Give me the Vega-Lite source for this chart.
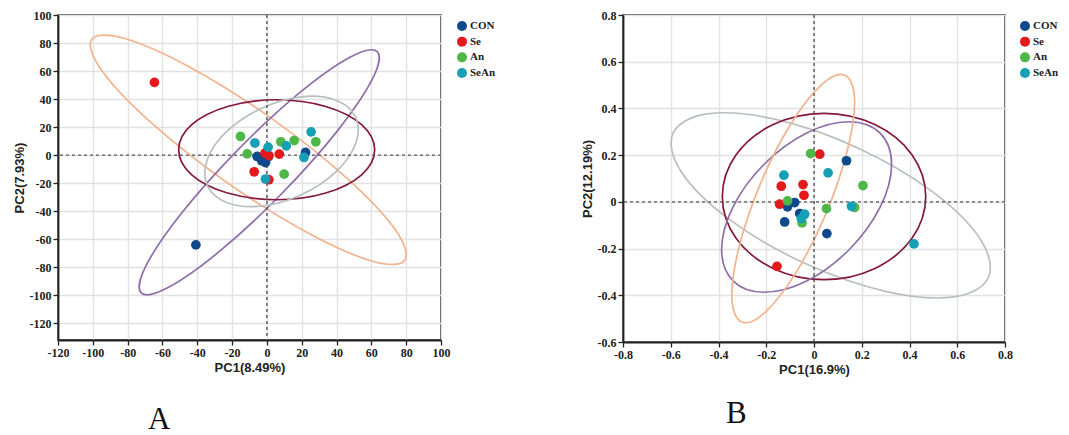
{
  "$schema": "https://vega.github.io/schema/vega-lite/v6.json",
  "padding": {"left": 12, "top": 8, "right": 5, "bottom": 0},
  "background": "white",
  "config": {
    "view": {"stroke": "#222", "strokeWidth": 1.5},
    "axis": {
      "domainColor": "#222", "domainWidth": 1.8,
      "tickColor": "#222", "tickSize": 5, "tickWidth": 1.3,
      "labelColor": "#222", "labelPadding": 2,
      "titleFont": "Liberation Sans", "titleFontSize": 13, "titleFontWeight": "bold", "titleColor": "#222", "titlePadding": 3,
      "gridColor": "#e2e2e2", "gridWidth": 1.4
    }
  },
  "datasets": {
    "groups": [{"g": "CON"}, {"g": "Se"}, {"g": "An"}, {"g": "SeAn"}],
    "ptsA": [
      {"g": "CON", "x": -5.6, "y": -1.0}, {"g": "CON", "x": -0.8, "y": -5.3}, {"g": "CON", "x": 22.2, "y": 1.9},
      {"g": "CON", "x": -40.8, "y": -64.1}, {"g": "CON", "x": 1.0, "y": -1.0}, {"g": "CON", "x": -3.0, "y": -4.0},
      {"g": "Se", "x": -64.6, "y": 51.9}, {"g": "Se", "x": -7.3, "y": -11.9}, {"g": "Se", "x": -1.1, "y": 1.4},
      {"g": "Se", "x": 1.1, "y": -0.3}, {"g": "Se", "x": 7.1, "y": 0.7}, {"g": "Se", "x": 1.1, "y": -17.6},
      {"g": "An", "x": -15.2, "y": 13.3}, {"g": "An", "x": -11.3, "y": 0.9}, {"g": "An", "x": 8.0, "y": 9.5},
      {"g": "An", "x": 15.7, "y": 10.4}, {"g": "An", "x": 28.1, "y": 9.5}, {"g": "An", "x": 9.9, "y": -13.6},
      {"g": "SeAn", "x": -6.9, "y": 8.6}, {"g": "SeAn", "x": 0.7, "y": 5.7}, {"g": "SeAn", "x": -0.8, "y": -17.1},
      {"g": "SeAn", "x": 11.1, "y": 6.6}, {"g": "SeAn", "x": 25.4, "y": 16.6}, {"g": "SeAn", "x": 21.3, "y": -1.7}
    ],
    "ellA": [
      {"grp": "Se", "k": 0, "x": 79.2, "y": -75.0}, {"grp": "Se", "k": 1, "x": 60.7, "y": -75.8}, {"grp": "Se", "k": 2, "x": 23.1, "y": -55.3},
      {"grp": "Se", "k": 3, "x": -23.6, "y": -19.0}, {"grp": "Se", "k": 4, "x": -66.8, "y": 23.5}, {"grp": "Se", "k": 5, "x": -95.0, "y": 60.6},
      {"grp": "Se", "k": 6, "x": -100.6, "y": 82.6}, {"grp": "Se", "k": 7, "x": -82.1, "y": 83.4}, {"grp": "Se", "k": 8, "x": -44.5, "y": 62.9},
      {"grp": "Se", "k": 9, "x": 2.2, "y": 26.6}, {"grp": "Se", "k": 10, "x": 45.4, "y": -15.9}, {"grp": "Se", "k": 11, "x": 73.6, "y": -53.0},
      {"grp": "CON", "k": 0, "x": 63.4, "y": 73.8}, {"grp": "CON", "k": 1, "x": 60.7, "y": 54.5}, {"grp": "CON", "k": 2, "x": 40.5, "y": 17.3},
      {"grp": "CON", "k": 3, "x": 8.3, "y": -27.8}, {"grp": "CON", "k": 4, "x": -27.3, "y": -68.8}, {"grp": "CON", "k": 5, "x": -56.8, "y": -94.6},
      {"grp": "CON", "k": 6, "x": -72.2, "y": -98.4}, {"grp": "CON", "k": 7, "x": -69.5, "y": -79.1}, {"grp": "CON", "k": 8, "x": -49.3, "y": -41.9},
      {"grp": "CON", "k": 9, "x": -17.1, "y": 3.2}, {"grp": "CON", "k": 10, "x": 18.5, "y": 44.2}, {"grp": "CON", "k": 11, "x": 48.0, "y": 70.0},
      {"grp": "An", "k": 0, "x": 61.9, "y": 3.8}, {"grp": "An", "k": 1, "x": 54.4, "y": 21.7}, {"grp": "An", "k": 2, "x": 33.8, "y": 34.7},
      {"grp": "An", "k": 3, "x": 5.6, "y": 39.5}, {"grp": "An", "k": 4, "x": -22.6, "y": 34.7}, {"grp": "An", "k": 5, "x": -43.2, "y": 21.7},
      {"grp": "An", "k": 6, "x": -50.7, "y": 3.8}, {"grp": "An", "k": 7, "x": -43.2, "y": -14.1}, {"grp": "An", "k": 8, "x": -22.6, "y": -27.1},
      {"grp": "An", "k": 9, "x": 5.6, "y": -31.9}, {"grp": "An", "k": 10, "x": 33.8, "y": -27.1}, {"grp": "An", "k": 11, "x": 54.4, "y": -14.1},
      {"grp": "SeAn", "k": 0, "x": 51.0, "y": 27.0}, {"grp": "SeAn", "k": 1, "x": 51.0, "y": 8.3}, {"grp": "SeAn", "k": 2, "x": 39.6, "y": -12.0},
      {"grp": "SeAn", "k": 3, "x": 19.8, "y": -28.3}, {"grp": "SeAn", "k": 4, "x": -3.0, "y": -36.4}, {"grp": "SeAn", "k": 5, "x": -22.8, "y": -34.0},
      {"grp": "SeAn", "k": 6, "x": -34.2, "y": -21.8}, {"grp": "SeAn", "k": 7, "x": -34.2, "y": -3.1}, {"grp": "SeAn", "k": 8, "x": -22.8, "y": 17.2},
      {"grp": "SeAn", "k": 9, "x": -3.0, "y": 33.5}, {"grp": "SeAn", "k": 10, "x": 19.8, "y": 41.6}, {"grp": "SeAn", "k": 11, "x": 39.6, "y": 39.2}
    ],
    "ptsB": [
      {"g": "CON", "x": 0.136, "y": 0.176}, {"g": "CON", "x": -0.081, "y": -0.003}, {"g": "CON", "x": -0.111, "y": -0.021},
      {"g": "CON", "x": -0.060, "y": -0.050}, {"g": "CON", "x": -0.123, "y": -0.086}, {"g": "CON", "x": 0.054, "y": -0.136},
      {"g": "Se", "x": 0.024, "y": 0.204}, {"g": "Se", "x": -0.137, "y": 0.067}, {"g": "Se", "x": -0.046, "y": 0.074},
      {"g": "Se", "x": -0.042, "y": 0.028}, {"g": "Se", "x": -0.144, "y": -0.010}, {"g": "Se", "x": -0.155, "y": -0.276},
      {"g": "An", "x": -0.014, "y": 0.207}, {"g": "An", "x": 0.205, "y": 0.070}, {"g": "An", "x": -0.111, "y": 0.004},
      {"g": "An", "x": 0.052, "y": -0.029}, {"g": "An", "x": 0.170, "y": -0.024}, {"g": "An", "x": -0.050, "y": -0.090},
      {"g": "SeAn", "x": -0.126, "y": 0.114}, {"g": "SeAn", "x": 0.059, "y": 0.124}, {"g": "SeAn", "x": 0.157, "y": -0.019},
      {"g": "SeAn", "x": -0.039, "y": -0.053}, {"g": "SeAn", "x": -0.053, "y": -0.072}, {"g": "SeAn", "x": 0.419, "y": -0.180}
    ],
    "ellB": [
      {"grp": "SeAn", "k": 0, "x": 0.730, "y": -0.325}, {"grp": "SeAn", "k": 1, "x": 0.586, "y": -0.407}, {"grp": "SeAn", "k": 2, "x": 0.304, "y": -0.384},
      {"grp": "SeAn", "k": 3, "x": -0.041, "y": -0.262}, {"grp": "SeAn", "k": 4, "x": -0.356, "y": -0.074}, {"grp": "SeAn", "k": 5, "x": -0.557, "y": 0.130},
      {"grp": "SeAn", "k": 6, "x": -0.590, "y": 0.295}, {"grp": "SeAn", "k": 7, "x": -0.446, "y": 0.377}, {"grp": "SeAn", "k": 8, "x": -0.164, "y": 0.354},
      {"grp": "SeAn", "k": 9, "x": 0.181, "y": 0.232}, {"grp": "SeAn", "k": 10, "x": 0.496, "y": 0.044}, {"grp": "SeAn", "k": 11, "x": 0.697, "y": -0.160},
      {"grp": "An", "k": 0, "x": 0.468, "y": 0.023}, {"grp": "An", "k": 1, "x": 0.411, "y": 0.201}, {"grp": "An", "k": 2, "x": 0.255, "y": 0.331},
      {"grp": "An", "k": 3, "x": 0.042, "y": 0.379}, {"grp": "An", "k": 4, "x": -0.171, "y": 0.331}, {"grp": "An", "k": 5, "x": -0.327, "y": 0.201},
      {"grp": "An", "k": 6, "x": -0.384, "y": 0.023}, {"grp": "An", "k": 7, "x": -0.327, "y": -0.155}, {"grp": "An", "k": 8, "x": -0.171, "y": -0.285},
      {"grp": "An", "k": 9, "x": 0.042, "y": -0.333}, {"grp": "An", "k": 10, "x": 0.255, "y": -0.285}, {"grp": "An", "k": 11, "x": 0.411, "y": -0.155},
      {"grp": "CON", "k": 0, "x": 0.277, "y": 0.294}, {"grp": "CON", "k": 1, "x": 0.325, "y": 0.160}, {"grp": "CON", "k": 2, "x": 0.277, "y": -0.023},
      {"grp": "CON", "k": 3, "x": 0.147, "y": -0.205}, {"grp": "CON", "k": 4, "x": -0.031, "y": -0.339}, {"grp": "CON", "k": 5, "x": -0.209, "y": -0.387},
      {"grp": "CON", "k": 6, "x": -0.339, "y": -0.338}, {"grp": "CON", "k": 7, "x": -0.387, "y": -0.204}, {"grp": "CON", "k": 8, "x": -0.339, "y": -0.021},
      {"grp": "CON", "k": 9, "x": -0.209, "y": 0.161}, {"grp": "CON", "k": 10, "x": -0.031, "y": 0.295}, {"grp": "CON", "k": 11, "x": 0.147, "y": 0.343},
      {"grp": "Se", "k": 0, "x": 0.129, "y": 0.542}, {"grp": "Se", "k": 1, "x": 0.170, "y": 0.441}, {"grp": "Se", "k": 2, "x": 0.141, "y": 0.226},
      {"grp": "Se", "k": 3, "x": 0.052, "y": -0.046}, {"grp": "Se", "k": 4, "x": -0.075, "y": -0.302}, {"grp": "Se", "k": 5, "x": -0.205, "y": -0.473},
      {"grp": "Se", "k": 6, "x": -0.303, "y": -0.514}, {"grp": "Se", "k": 7, "x": -0.344, "y": -0.413}, {"grp": "Se", "k": 8, "x": -0.315, "y": -0.198},
      {"grp": "Se", "k": 9, "x": -0.226, "y": 0.074}, {"grp": "Se", "k": 10, "x": -0.099, "y": 0.330}, {"grp": "Se", "k": 11, "x": 0.031, "y": 0.501}
    ]
  },
  "spacing": 84,
  "hconcat": [
    {
      "spacing": 6,
      "hconcat": [
        {
          "width": 383, "height": 325,
          "title": {"text": "A", "orient": "bottom", "anchor": "start", "frame": "group", "dx": 90, "offset": 31, "font": "Liberation Serif", "fontSize": 31, "fontWeight": "normal", "color": "#111"},
          "encoding": {
            "x": {"field": "x", "type": "quantitative", "scale": {"domain": [-120, 100], "nice": false, "zero": false},
                  "axis": {"title": "PC1(8.49%)", "values": [-120, -100, -80, -60, -40, -20, 0, 20, 40, 60, 80, 100], "labelExpr": "'' + datum.value", "labelFont": "Liberation Serif", "labelFontWeight": "bold", "labelFontSize": 12, "labelOverlap": false, "labelFlush": false}},
            "y": {"field": "y", "type": "quantitative", "scale": {"domain": [-132, 100], "nice": false, "zero": false},
                  "axis": {"title": "PC2(7.93%)", "values": [-120, -100, -80, -60, -40, -20, 0, 20, 40, 60, 80, 100], "labelExpr": "'' + datum.value", "labelFont": "Liberation Serif", "labelFontWeight": "bold", "labelFontSize": 12, "labelOverlap": false, "labelFlush": false}}
          },
          "layer": [
            {
              "data": {"name": "ellA"},
              "mark": {"type": "line", "interpolate": "cardinal-closed", "strokeWidth": 1.7},
              "encoding": {
                "detail": {"field": "grp"},
                "order": {"field": "k", "type": "quantitative"},
                "stroke": {"field": "grp", "type": "nominal", "scale": {"domain": ["CON", "Se", "An", "SeAn"], "range": ["#8e6ea9", "#f1b38d", "#84173d", "#b9bfbc"]}, "legend": null}
              }
            },
            {
              "data": {"values": [{"zero": 0}]},
              "mark": {"type": "rule", "strokeDash": [3, 3], "color": "#555", "strokeWidth": 1.4},
              "encoding": {"x": {"field": "zero", "type": "quantitative"}, "y": null}
            },
            {
              "data": {"values": [{"zero": 0}]},
              "mark": {"type": "rule", "strokeDash": [3, 3], "color": "#555", "strokeWidth": 1.4},
              "encoding": {"y": {"field": "zero", "type": "quantitative"}, "x": null}
            },
            {
              "data": {"name": "ptsA"},
              "mark": {"type": "point", "filled": true, "size": 95, "opacity": 1, "shape": "circle"},
              "encoding": {
                "color": {"field": "g", "type": "nominal", "scale": {"domain": ["CON", "Se", "An", "SeAn"], "range": ["#0e4a8b", "#e3191b", "#4db848", "#179fb6"]}, "legend": null}
              }
            }
          ]
        },
        {
          "width": 10, "height": 69,
          "view": {"stroke": null},
          "data": {"name": "groups"},
          "encoding": {
            "y": {"field": "g", "type": "nominal", "sort": ["CON", "Se", "An", "SeAn"], "scale": {"padding": 0.7}, "axis": null}
          },
          "layer": [
            {
              "mark": {"type": "point", "filled": true, "size": 100, "opacity": 1, "shape": "circle"},
              "encoding": {"color": {"field": "g", "type": "nominal", "scale": {"domain": ["CON", "Se", "An", "SeAn"], "range": ["#0e4a8b", "#e3191b", "#4db848", "#179fb6"]}, "legend": null}}
            },
            {
              "mark": {"type": "text", "align": "left", "baseline": "middle", "dx": 8, "font": "Liberation Serif", "fontWeight": "bold", "fontSize": 11, "color": "#222"},
              "encoding": {"text": {"field": "g"}}
            }
          ]
        }
      ]
    },
    {
      "spacing": 6,
      "hconcat": [
        {
          "width": 382, "height": 327,
          "title": {"text": "B", "orient": "bottom", "anchor": "start", "frame": "group", "dx": 103, "offset": 23, "font": "Liberation Serif", "fontSize": 31, "fontWeight": "normal", "color": "#111"},
          "encoding": {
            "x": {"field": "x", "type": "quantitative", "scale": {"domain": [-0.8, 0.8], "nice": false, "zero": false},
                  "axis": {"title": "PC1(16.9%)", "values": [-0.8, -0.6, -0.4, -0.2, 0, 0.2, 0.4, 0.6, 0.8], "labelExpr": "'' + datum.value", "labelFont": "Liberation Serif", "labelFontWeight": "bold", "labelFontSize": 12, "labelOverlap": false, "labelFlush": false}},
            "y": {"field": "y", "type": "quantitative", "scale": {"domain": [-0.6, 0.8], "nice": false, "zero": false},
                  "axis": {"title": "PC2(12.19%)", "values": [-0.6, -0.4, -0.2, 0, 0.2, 0.4, 0.6, 0.8], "labelExpr": "'' + datum.value", "labelFont": "Liberation Serif", "labelFontWeight": "bold", "labelFontSize": 12, "labelOverlap": false, "labelFlush": false}}
          },
          "layer": [
            {
              "data": {"name": "ellB"},
              "mark": {"type": "line", "interpolate": "cardinal-closed", "strokeWidth": 1.7},
              "encoding": {
                "detail": {"field": "grp"},
                "order": {"field": "k", "type": "quantitative"},
                "stroke": {"field": "grp", "type": "nominal", "scale": {"domain": ["CON", "Se", "An", "SeAn"], "range": ["#8e6ea9", "#f1b38d", "#84173d", "#b9bfbc"]}, "legend": null}
              }
            },
            {
              "data": {"values": [{"zero": 0}]},
              "mark": {"type": "rule", "strokeDash": [3, 3], "color": "#555", "strokeWidth": 1.4},
              "encoding": {"x": {"field": "zero", "type": "quantitative"}, "y": null}
            },
            {
              "data": {"values": [{"zero": 0}]},
              "mark": {"type": "rule", "strokeDash": [3, 3], "color": "#555", "strokeWidth": 1.4},
              "encoding": {"y": {"field": "zero", "type": "quantitative"}, "x": null}
            },
            {
              "data": {"name": "ptsB"},
              "mark": {"type": "point", "filled": true, "size": 95, "opacity": 1, "shape": "circle"},
              "encoding": {
                "color": {"field": "g", "type": "nominal", "scale": {"domain": ["CON", "Se", "An", "SeAn"], "range": ["#0e4a8b", "#e3191b", "#4db848", "#179fb6"]}, "legend": null}
              }
            }
          ]
        },
        {
          "width": 10, "height": 69,
          "view": {"stroke": null},
          "data": {"name": "groups"},
          "encoding": {
            "y": {"field": "g", "type": "nominal", "sort": ["CON", "Se", "An", "SeAn"], "scale": {"padding": 0.7}, "axis": null}
          },
          "layer": [
            {
              "mark": {"type": "point", "filled": true, "size": 100, "opacity": 1, "shape": "circle"},
              "encoding": {"color": {"field": "g", "type": "nominal", "scale": {"domain": ["CON", "Se", "An", "SeAn"], "range": ["#0e4a8b", "#e3191b", "#4db848", "#179fb6"]}, "legend": null}}
            },
            {
              "mark": {"type": "text", "align": "left", "baseline": "middle", "dx": 8, "font": "Liberation Serif", "fontWeight": "bold", "fontSize": 11, "color": "#222"},
              "encoding": {"text": {"field": "g"}}
            }
          ]
        }
      ]
    }
  ]
}
